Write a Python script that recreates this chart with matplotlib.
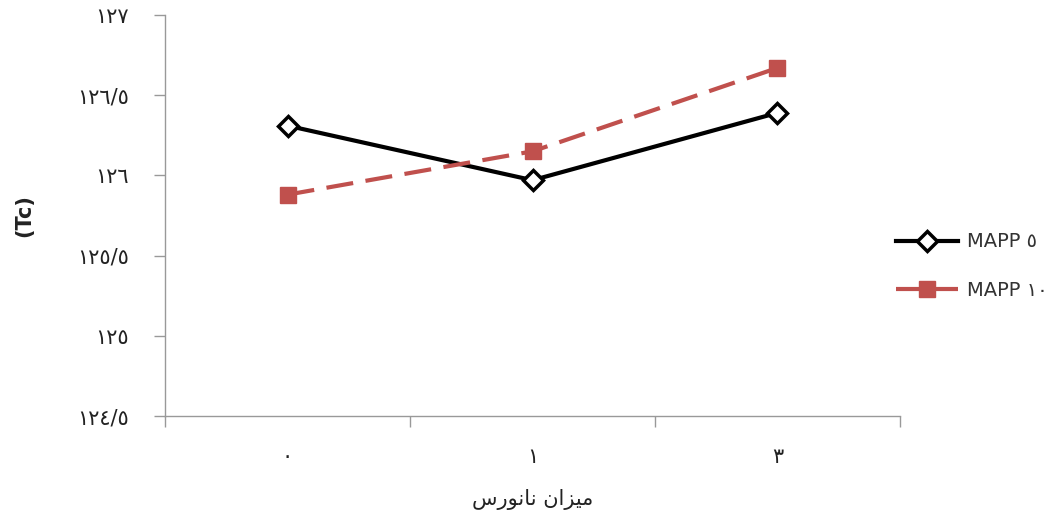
import matplotlib
matplotlib.use("Agg")
import matplotlib.pyplot as plt
from matplotlib.ticker import FixedLocator

categories = ["٠", "١", "٣"]
mapp5 = [126.31, 125.97, 126.39]
mapp10 = [125.88, 126.15, 126.67]
series_labels = ["MAPP ٥", "MAPP ١٠"]
y_ticks = [124.5, 125.0, 125.5, 126.0, 126.5, 127.0]
y_tick_labels = ["١٢٤/٥", "١٢٥", "١٢٥/٥", "١٢٦", "١٢٦/٥", "١٢٧"]
# "میزان نانورس" in shaped presentation forms, visual order
x_label = "ﺱﺭﻮﻧﺎﻧ ﻥﺍﺰﻴﻣ"
y_label = "(Tc)"

plt.rcParams['font.family'] = ['DejaVu Sans']
fig = plt.figure(figsize=(10.58, 5.15), dpi=100)
ax = fig.add_axes([165/1058, 1-416/515, (900-165)/1058, (416-15)/515])

x = list(range(len(categories)))
ax.plot(x, mapp5, color="black", lw=3, marker="D", markersize=10,
        markerfacecolor="white", markeredgecolor="black", markeredgewidth=2.5,
        label=series_labels[0], zorder=3)
ax.plot(x, mapp10, color="#C0504D", lw=3, ls=(0, (6.5, 3)), marker="s", markersize=12,
        markerfacecolor="#C0504D", markeredgecolor="#C0504D",
        label=series_labels[1], zorder=3)

ax.set_xlim(-0.5, len(categories) - 0.5)
ax.set_ylim(124.5, 127)
ax.set_yticks(y_ticks)
ax.set_yticklabels(y_tick_labels, fontsize=15, color="#222222")
ax.set_xticks(x)
ax.set_xticklabels(categories, fontsize=15, color="#222222")
ax.xaxis.set_minor_locator(FixedLocator([i - 0.5 for i in range(len(categories) + 1)]))
ax.tick_params(axis="x", which="major", length=0, pad=22)
ax.tick_params(axis="x", which="minor", length=8, color="#999999", width=1)
ax.tick_params(axis="y", length=8, color="#999999", width=1, pad=18)

for s in ["top", "right"]:
    ax.spines[s].set_visible(False)
for s in ["left", "bottom"]:
    ax.spines[s].set_color("#999999")
    ax.spines[s].set_linewidth(1)

ax.set_xlabel(x_label, fontsize=15, color="#222222", labelpad=16)
ax.set_ylabel(y_label, fontsize=15, fontweight="bold", color="#222222", labelpad=31)

leg = fig.legend(loc="center left", bbox_to_anchor=(878/1058, 1-266/515),
                 frameon=False, fontsize=14, handlelength=3.2, labelspacing=1.5,
                 handletextpad=0.5)
for t in leg.get_texts():
    t.set_color("#333333")

fig.savefig("out.png", dpi=100)
